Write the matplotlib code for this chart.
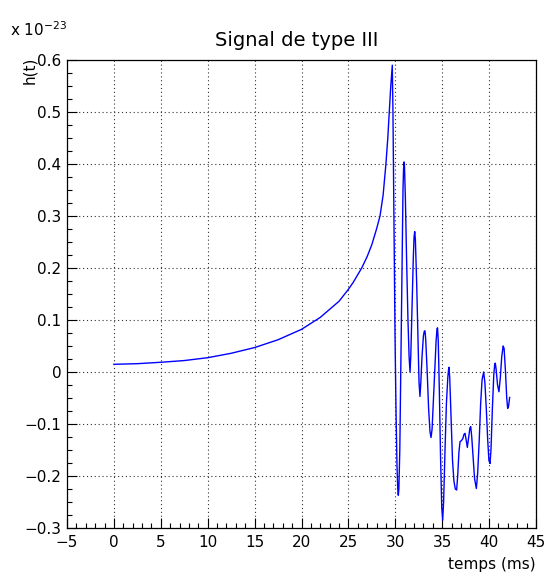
import matplotlib
matplotlib.use("Agg")
import matplotlib.pyplot as plt
from matplotlib.ticker import MultipleLocator, FuncFormatter

# time in ms, strain in units of 1e-23
t_inspiral = [0, 2.5, 5, 7.5, 10, 12.5, 15, 17.5, 20, 22, 24, 25, 25.5, 26, 26.42,
              27, 27.5, 28, 28.37, 28.7, 29.0, 29.2, 29.36, 29.5, 29.68]
h_inspiral = [0.0148, 0.016, 0.0187, 0.022, 0.0275, 0.036, 0.047, 0.062, 0.082,
              0.105, 0.136, 0.159, 0.172, 0.187, 0.200, 0.222, 0.245, 0.275, 0.300,
              0.340, 0.400, 0.450, 0.500, 0.545, 0.59]

t_ring = [29.75, 29.85, 29.97, 30.08, 30.18, 30.26, 30.32, 30.38, 30.48, 30.6,
          30.72, 30.82, 30.88, 30.93, 30.98, 31.08, 31.2, 31.35, 31.47, 31.57,
          31.65, 31.78, 31.92, 32.0, 32.07, 32.14, 32.28, 32.42, 32.53, 32.63,
          32.72, 32.85, 33.0, 33.1, 33.17, 33.25, 33.4, 33.55, 33.7, 33.81,
          33.92, 34.05, 34.2, 34.35, 34.45, 34.5, 34.58, 34.7, 34.82, 34.95,
          35.05, 35.15, 35.3, 35.45, 35.6, 35.68, 35.72, 35.8, 35.95, 36.1,
          36.25, 36.4, 36.54, 36.65, 36.78, 36.9, 37.05, 37.2, 37.32, 37.43,
          37.55, 37.68, 37.82, 37.95, 38.04, 38.15, 38.3, 38.45, 38.64, 38.78,
          38.95, 39.1, 39.25, 39.42, 39.55, 39.7, 39.85, 39.98, 40.1, 40.2,
          40.35, 40.5, 40.6, 40.66, 40.75, 40.9, 41.05, 41.2, 41.35, 41.5,
          41.6, 41.75, 41.88, 41.98, 42.08, 42.19]
h_ring = [0.50, 0.30, 0.07, -0.08, -0.18, -0.225, -0.237, -0.225, -0.15, 0.03,
          0.22, 0.35, 0.39, 0.404, 0.395, 0.33, 0.22, 0.10, 0.03, 0.0,
          0.03, 0.12, 0.22, 0.26, 0.27, 0.255, 0.17, 0.06, -0.02, -0.047,
          -0.02, 0.03, 0.07, 0.079, 0.079, 0.06, 0.0, -0.07, -0.115, -0.126,
          -0.11, -0.06, 0.0, 0.06, 0.083, 0.085, 0.06, -0.04, -0.16, -0.26,
          -0.285, -0.25, -0.15, -0.06, -0.01, 0.005, 0.009, -0.01, -0.09, -0.17,
          -0.21, -0.225, -0.227, -0.2, -0.155, -0.134, -0.132, -0.128, -0.12, -0.118,
          -0.13, -0.145, -0.125, -0.108, -0.105, -0.125, -0.165, -0.205, -0.224, -0.195,
          -0.13, -0.06, -0.015, 0.0, -0.02, -0.07, -0.13, -0.17, -0.176, -0.15,
          -0.07, -0.005, 0.015, 0.017, 0.005, -0.025, -0.038, -0.01, 0.03, 0.05,
          0.045, 0.0, -0.05, -0.07, -0.065, -0.049]

t = t_inspiral + t_ring
h = h_inspiral + h_ring

plt.rcParams['font.family'] = ['DejaVu Sans']

fig = plt.figure(figsize=(5.48, 5.74), dpi=100)
ax = fig.add_axes([67/548, 46/574, 469/548, 468/574])

ax.plot(t, h, color=(0, 0, 1), lw=1.0, solid_joinstyle='round')

ax.set_xlim(-5, 45)
ax.set_ylim(-0.3, 0.6)
ax.xaxis.set_major_locator(MultipleLocator(5))
ax.xaxis.set_minor_locator(MultipleLocator(1))
ax.yaxis.set_major_locator(MultipleLocator(0.1))
ax.yaxis.set_minor_locator(MultipleLocator(0.025))

def yfmt(v, pos):
    if abs(v) < 1e-9:
        return "0"
    return ("%.1f" % v).replace("-", "\u2212")

def xfmt(v, pos):
    return ("%d" % round(v)).replace("-", "\u2212")

ax.yaxis.set_major_formatter(FuncFormatter(yfmt))
ax.xaxis.set_major_formatter(FuncFormatter(xfmt))

ax.tick_params(which='both', direction='in', top=False, right=False,
               labelsize=11, colors='black')
ax.tick_params(which='major', length=7, width=0.8, pad=4)
ax.tick_params(which='minor', length=3.5, width=0.8)
ax.tick_params(axis='x', which='major', pad=5)

ax.grid(True, which='major', linestyle=(0, (1, 2.5)), color='#333333', lw=0.8)
for s in ax.spines.values():
    s.set_linewidth(0.9)
    s.set_color('black')

fig.text(297/548, 1 - 40/574, "Signal de type III", ha='center', va='center',
         fontsize=14)
fig.text(10/548, 1 - 30/574, r"x 10$^{-23}$", ha='left', va='center', fontsize=11)
fig.text(30/548, 1 - 70/574, "h(t)", ha='center', va='center', rotation=90,
         fontsize=11)
fig.text(536/548, 1 - 565/574, "temps (ms)", ha='right', va='center', fontsize=11)

fig.savefig("out.png", dpi=100)
